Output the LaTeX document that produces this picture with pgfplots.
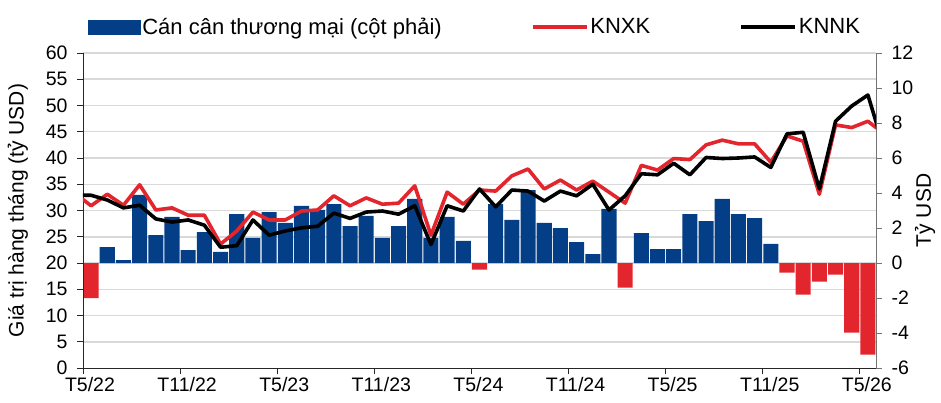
\documentclass[border=0pt]{standalone}
\usepackage{fontspec}
\setmainfont{Liberation Sans}
\usepackage{pgfplots}
\pgfplotsset{compat=1.18}
\usepackage{pgfplotstable}
\definecolor{cblue}{HTML}{043E86}
\definecolor{cred}{HTML}{E3262E}
\definecolor{cgrid}{HTML}{D9D9D9}

% trade balance, positive months (right axis)
\pgfplotstableread{
x b
1 0.91
2 0.17
3 3.89
4 1.60
5 2.63
6 0.74
7 1.77
8 0.63
9 2.80
10 1.43
11 2.91
12 2.29
13 3.26
14 3.03
15 3.37
16 2.11
17 2.70
18 1.43
19 2.11
20 3.66
21 1.43
22 2.63
23 1.26
25 3.37
26 2.46
27 4.17
28 2.29
29 2.00
30 1.20
31 0.51
32 3.09
34 1.71
35 0.80
36 0.80
37 2.80
38 2.40
39 3.66
40 2.80
41 2.57
42 1.09
}\barspos

% trade balance, negative months (right axis)
\pgfplotstableread{
x b
0 -2.00
24 -0.38
33 -1.41
43 -0.55
44 -1.81
45 -1.07
46 -0.67
47 -3.98
48 -5.24
}\barsneg

% monthly exports (r) and imports (k), left axis
\pgfplotstableread{
x r k
-1 33.3 32.9
0 30.9 32.9
1 33.1 32.0
2 31.0 30.5
3 34.9 31.0
4 30.1 28.4
5 30.5 27.8
6 29.1 28.2
7 29.1 27.2
8 23.6 23.0
9 26.1 23.3
10 29.7 28.2
11 28.2 25.3
12 28.2 26.1
13 29.9 26.7
14 30.1 27.0
15 32.8 29.5
16 30.9 28.5
17 32.4 29.7
18 31.2 29.9
19 31.4 29.3
20 34.7 30.9
21 25.3 23.5
22 33.5 30.9
23 31.2 29.9
24 33.9 34.1
25 33.7 30.7
26 36.6 33.9
27 37.9 33.7
28 34.1 31.8
29 35.8 33.7
30 33.9 32.8
31 35.6 35.0
32 33.5 30.1
33 31.4 32.8
34 38.6 37.0
35 37.7 36.8
36 39.9 39.0
37 39.7 36.8
38 42.5 40.1
39 43.4 39.9
40 42.7 40.0
41 42.7 40.2
42 39.2 38.2
43 44.2 44.6
44 43.2 44.9
45 33.1 34.1
46 46.3 47.0
47 45.8 49.9
48 47.0 52.0
49 44.6 41.8
}\lines

\begin{document}
\begin{tikzpicture}
% ---- right axis: bars + grid ----
\begin{axis}[name=main, scale only axis, width=793pt, height=315pt,
  xmin=-0.5, xmax=48.5, ymin=-6, ymax=12,
  axis x line*=bottom, axis y line*=right,
  x axis line style={draw=black!85, line width=0.9pt, -},
  y axis line style={draw=black!55, line width=0.9pt, -},
  tick align=outside, major tick length=6pt,
  xtick={-0.5,5.5,11.5,17.5,23.5,29.5,35.5,41.5,47.5},
  xticklabels={T5/22,T11/22,T5/23,T11/23,T5/24,T11/24,T5/25,T11/25,T5/26},
  xticklabel style={xshift=7pt},
  ytick={-6,-4,-2,0,2,4,6,8,10,12},
  yticklabels={-6,-4,-2,0,2,4,6,8,10,12},
  extra y ticks={-4.5,-3,-1.5,0,1.5,3,4.5,6,7.5,9,10.5,12},
  extra y tick labels={},
  extra y tick style={grid=major, major tick length=0pt},
  major grid style={draw=cgrid, line width=1.5pt},
  x tick style={draw=black!85, line width=0.9pt},
  y tick style={draw=black!55, line width=0.9pt},
  ticklabel style={font=\fontsize{19.5}{22}\selectfont},
  yticklabel style={xshift=6pt},
  every axis y label/.style={at={(axis description cs:1.0618,0.5)}, rotate=90, anchor=center},
  ylabel={Tỷ USD},
  ylabel style={font=\fontsize{21}{24}\selectfont},
  clip=true,
]
\addplot[ybar, bar width=0.93, bar shift=0pt, fill=cblue, draw=none] table[x=x,y=b]{\barspos};
\addplot[ybar, bar width=0.93, bar shift=0pt, fill=cred, draw=none] table[x=x,y=b]{\barsneg};
\end{axis}
% ---- left axis: lines ----
\begin{axis}[scale only axis, width=793pt, height=315pt,
  xmin=-0.5, xmax=48.5, ymin=0, ymax=60,
  axis y line*=left, hide x axis,
  y axis line style={draw=black!85, line width=0.9pt, -},
  tick align=outside, major tick length=6pt,
  y tick style={draw=black!85, line width=0.9pt},
  ytick={0,5,10,15,20,25,30,35,40,45,50,55,60},
  yticklabels={0,5,10,15,20,25,30,35,40,45,50,55,60},
  ticklabel style={font=\fontsize{19.5}{22}\selectfont},
  yticklabel style={xshift=-6pt},
  every axis y label/.style={at={(axis description cs:-0.082,0.5)}, rotate=90, anchor=center},
  ylabel={Giá trị hàng tháng (tỷ USD)},
  ylabel style={font=\fontsize{21}{24}\selectfont},
  legend columns=3,
  legend cell align=left,
  legend style={at={(rel axis cs:0.006,1.0825)}, anchor=west, draw=none, fill=none,
    inner sep=0pt, font=\fontsize{22}{25}\selectfont,
    /tikz/every even column/.append style={column sep=87pt}},
  legend image code/.code={\draw[#1] (0pt,0pt) -- (54pt,0pt);},
]
\addlegendimage{legend image code/.code={\fill[cblue] (0pt,-7pt) rectangle (52pt,7pt);}}
\addlegendentry{Cán cân thương mại (cột phải)}
\addplot[cred, line width=3.6pt, line join=round] table[x=x,y=r]{\lines};
\addlegendentry{KNXK}
\addplot[black, line width=3.6pt, line join=round] table[x=x,y=k]{\lines};
\addlegendentry{KNNK}
\end{axis}
\pgfresetboundingbox
\path ([xshift=-83pt,yshift=-34pt]main.south west) rectangle ([xshift=65pt,yshift=53pt]main.north east);
\end{tikzpicture}
\end{document}
